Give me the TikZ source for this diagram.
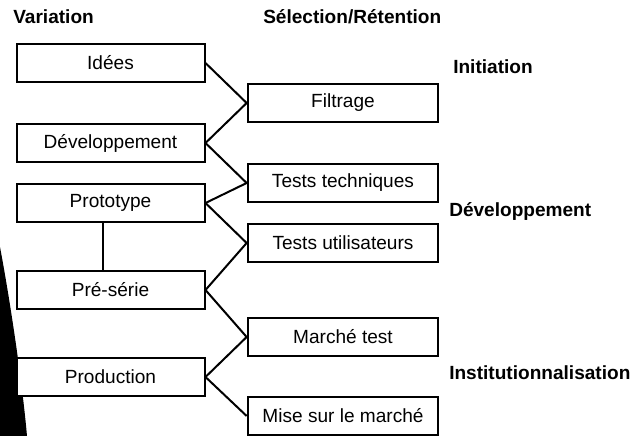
\documentclass[tikz,border=0pt]{standalone}
\usepackage{fontspec}
\setmainfont{Liberation Sans}
\usetikzlibrary{positioning}
\newcommand{\diagsize}{\fontsize{14.3}{17}\selectfont}
\tikzset{
  varbox/.style={draw,line width=1.5pt,fill=white,minimum width=141pt,minimum height=29pt,inner sep=0pt},
  selbox/.style={draw,line width=1.5pt,fill=white,minimum width=143pt,minimum height=29pt,inner sep=0pt},
  stage/.style={font=\diagsize\bfseries,anchor=base west,inner sep=0pt},
  link/.style={line width=1.5pt}
}

\begin{document}
\begin{tikzpicture}[x=0.75pt,y=-0.75pt,every node/.style={font=\diagsize}]
  \useasboundingbox (0,0) rectangle (637,436);
  % black wedge at the left edge
  \fill (0,247) .. controls (10,300) and (22,380) .. (27,436) -- (0,436) -- cycle;
  % headings
  \node[stage] (hvar) at (13,23) {Variation};
  \node[stage] (hsel) at (263,23) {Sélection/Rétention};
  \node[stage] (hini) at (453,73) {Initiation};
  \node[stage] (hdev) at (449,216) {Développement};
  \node[stage] (hins) at (449,379) {Institutionnalisation};
  % variation column
  \node[varbox] (idees) at (110.5,63) {Idées};
  \node[varbox] (devel) at (110.5,143) {Développement};
  \node[varbox] (proto) at (110.5,203) {Prototype};
  \node[varbox] (preserie) at (110.5,290) {Pré-série};
  \node[varbox] (prod) at (110.5,377) {Production};
  % selection column
  \node[selbox] (filtre) at (343,103) {Filtrage};
  \node[selbox] (ttech) at (343,183) {Tests techniques};
  \node[selbox] (tuser) at (343,243) {Tests utilisateurs};
  \node[selbox] (mtest) at (343,337) {Marché test};
  \node[selbox] (mise) at (343,416) {Mise sur le marché};
  % links
  \draw[link] (idees.east) -- (filtre.west);
  \draw[link] (devel.east) -- (filtre.west);
  \draw[link] (devel.east) -- (ttech.west);
  \draw[link] (proto.east) -- (ttech.west);
  \draw[link] (proto.east) -- (tuser.west);
  \draw[link] (preserie.east) -- (tuser.west);
  \draw[link] (preserie.east) -- (mtest.west);
  \draw[link] (prod.east) -- (mtest.west);
  \draw[link] (prod.east) -- (mise.west);
  \draw[link] ([xshift=-5.5pt]proto.south) -- ([xshift=-5.5pt]preserie.north);
\end{tikzpicture}
\end{document}
